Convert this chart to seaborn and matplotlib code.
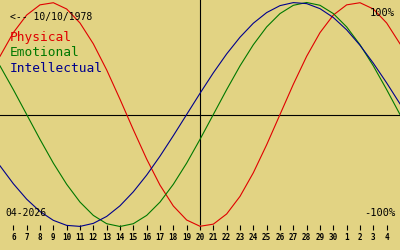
import matplotlib
matplotlib.use("Agg")
import matplotlib.pyplot as plt
import seaborn as sns
import pandas as pd

# ---- data ----
days = list(range(5, 36))  # Apr 5 .. May 5 (31 = May 1)
physical = [52.0, 73.1, 88.8, 97.9, 99.8, 94.2, 81.7, 63.1, 39.8, 13.6,
            -13.6, -39.8, -63.1, -81.7, -94.2, -99.8, -97.9, -88.8, -73.1, -52.0,
            -27.0, 0.0, 27.0, 52.0, 73.1, 88.8, 97.9, 99.8, 94.2, 81.7, 63.1]
emotional = [43.4, 22.2, 0.0, -22.2, -43.4, -62.3, -78.2, -90.1, -97.5, -100.0,
             -97.5, -90.1, -78.2, -62.3, -43.4, -22.2, 0.0, 22.2, 43.4, 62.3,
             78.2, 90.1, 97.5, 100.0, 97.5, 90.1, 78.2, 62.3, 43.4, 22.2, 0.0]
intellectual = [-45.8, -61.8, -75.6, -86.6, -94.5, -99.0, -99.9, -97.2, -91.0, -81.5,
                -69.0, -54.1, -37.2, -18.9, 0.0, 18.9, 37.2, 54.1, 69.0, 81.5,
                91.0, 97.2, 99.9, 99.0, 94.5, 86.6, 75.6, 61.8, 45.8, 28.2, 9.5]
series_names = ["Physical", "Emotional", "Intellectual"]
tick_days = list(range(6, 35))
tick_labels = [str(d) for d in range(6, 31)] + ["1", "2", "3", "4"]
today = 20
birth_label = "<-- 10/10/1978"
month_label = "04-2026"

# ---- style ----
bg = "#e2d383"
colors = {"Physical": "#e00000", "Emotional": "#007800", "Intellectual": "#00008c"}

df = pd.DataFrame({
    "day": days * 3,
    "value": physical + emotional + intellectual,
    "series": sum([[n] * len(days) for n in series_names], []),
})

fig = plt.figure(figsize=(4, 2.5), dpi=100)
fig.patch.set_facecolor(bg)
ax = fig.add_axes([0, 25 / 250, 1, 225 / 250])
ax.set_facecolor(bg)

sns.lineplot(data=df, x="day", y="value", hue="series", palette=colors,
             hue_order=series_names, legend=False, ax=ax, linewidth=0.8,
             estimator=None, sort=False, clip_on=False)

ax.axhline(0, color="black", lw=0.8, zorder=0.5)
ax.axvline(today, color="black", lw=0.8, zorder=0.5)

ax.set_xlim(5, 35)
ax.set_ylim((114.5 - 225) / 1.12, 114.5 / 1.12)
for s in ax.spines.values():
    s.set_visible(False)
ax.set_yticks([])
ax.set_xticks(tick_days)
ax.set_xticklabels(tick_labels, family="DejaVu Sans Mono", fontweight="bold")
ax.tick_params(axis="x", direction="out", length=3.6, width=0.8, color="black",
               pad=2, labelsize=5.5)
ax.set_xlabel("")
ax.set_ylabel("")

mono = "DejaVu Sans Mono"
def px(x, y):
    return x / 400, 1 - y / 250

fig.text(*px(10, 17), birth_label, family=mono, fontsize=7, va="center", ha="left", color="black")
fig.text(*px(395, 13), "100%", family=mono, fontsize=7.5, va="center", ha="right", color="black")
fig.text(*px(395, 213), "-100%", family=mono, fontsize=7.5, va="center", ha="right", color="black")
fig.text(*px(5, 213), month_label, family=mono, fontsize=7, va="center", ha="left", color="black")
for i, name in enumerate(series_names):
    fig.text(*px(10, 38 + 15 * i), name, family=mono, fontsize=9.3, va="center",
             ha="left", color=colors[name])

fig.savefig("out.png", dpi=100, facecolor=bg)
